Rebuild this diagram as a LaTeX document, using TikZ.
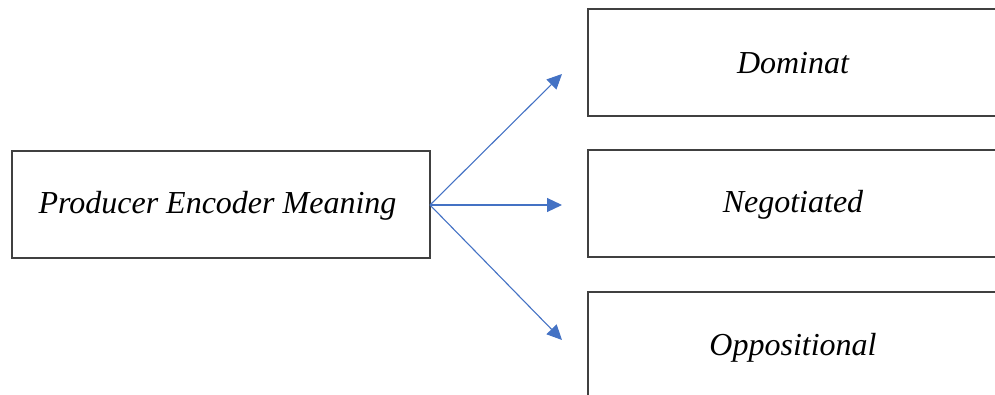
\documentclass[tikz,border=0pt]{standalone}
\usepackage{fontspec}
\setmainfont{Liberation Serif}
\usetikzlibrary{arrows.meta}
\definecolor{boxgray}{HTML}{404040}
\definecolor{arrowblue}{HTML}{4472C4}
\tikzset{
  box/.style={draw=boxgray, line width=2pt, rectangle, inner sep=0pt},
  lbl/.style={font=\fontsize{32}{36}\selectfont\itshape, inner sep=0pt},
  conn/.style={draw=arrowblue, line width=1.1pt, -{Triangle[length=15pt,width=14pt]}}
}
\begin{document}
\begin{tikzpicture}[x=1pt,y=-1pt]
\useasboundingbox (0,0) rectangle (995,395);
\clip (0,0) rectangle (995,395);
\node[box, minimum width=418pt, minimum height=107pt] (src) at (221,204.5) {};
\node[lbl] (srct) at (217.5,206) {Producer Encoder Meaning};
\node[box, minimum width=414pt, minimum height=107pt] (dom) at (795,62.5) {};
\node[lbl] (domt) at (793,63) {Dominat};
\node[box, minimum width=414pt, minimum height=107pt] (neg) at (795,203.5) {};
\node[lbl] (negt) at (793,205) {Negotiated};
\node[box, minimum width=414pt, minimum height=110pt] (opp) at (795,347) {};
\node[lbl] (oppt) at (793,348) {Oppositional};
\coordinate (o) at (430,205);
\coordinate (t1) at (562,74);
\coordinate (t2) at (562,205);
\coordinate (t3) at (562,340);
\draw[conn] (o) -- (t1);
\draw[conn] (o) -- (t2);
\draw[conn] (o) -- (t3);
\end{tikzpicture}
\end{document}
